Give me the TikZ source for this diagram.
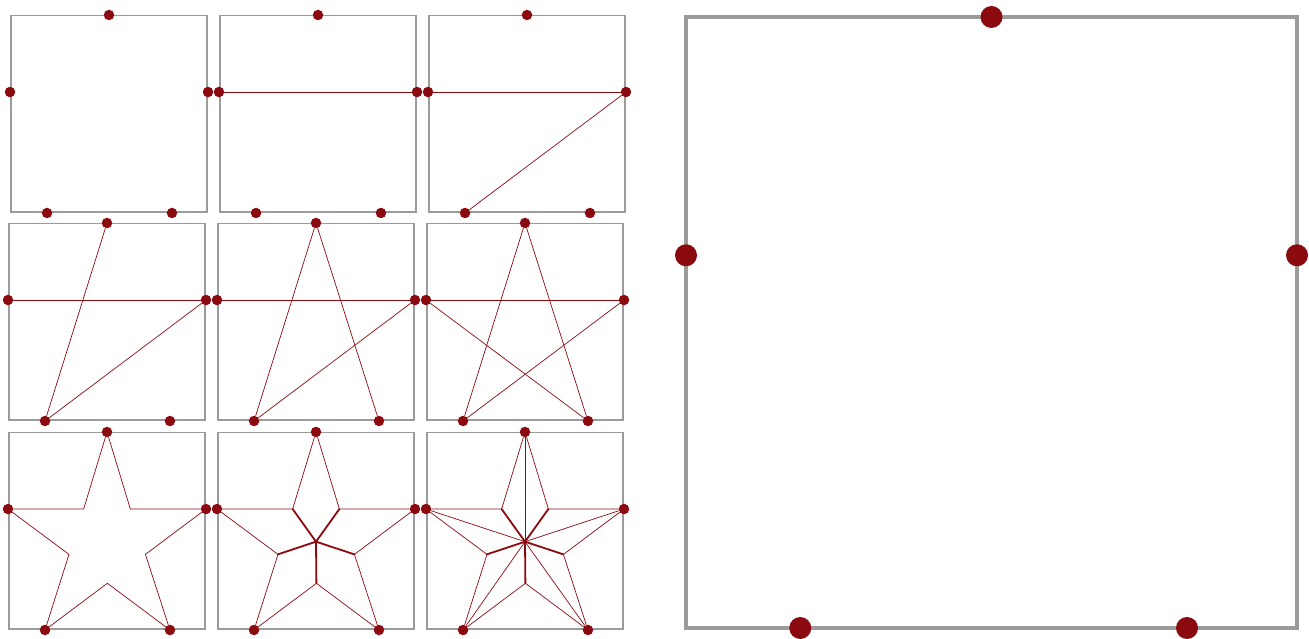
\documentclass[tikz,border=0pt]{standalone}
\usetikzlibrary{calc}
\definecolor{dred}{RGB}{139,10,16}
\definecolor{boxgray}{RGB}{155,155,155}
\tikzset{
  sbox/.style={draw=boxgray,line width=1.6pt},
  bbox/.style={draw=boxgray,line width=4.5pt},
  sdot/.style={circle,fill=dred,inner sep=0pt,minimum size=10.5pt},
  bdot/.style={circle,fill=dred,inner sep=0pt,minimum size=22pt},
  edge/.style={draw=dred,line width=0.7pt},
  spoke/.style={draw=dred,line width=1.8pt},
}
\newcommand\mkpanel[3]{%
  \begin{scope}[shift={(#2,#3)},x=198pt,y=-198pt]
    \draw[sbox] (0.005,0.003) rectangle (0.995,0.995);
    \coordinate (#1C) at (0.5,0.554);
    \coordinate (#1i1) at (0.618,0.389);
    \coordinate (#1i2) at (0.694,0.618);
    \coordinate (#1i3) at (0.502,0.764);
    \coordinate (#1i4) at (0.308,0.618);
    \coordinate (#1i5) at (0.382,0.389);
    \node[sdot] (#1T) at (0.5,0) {};
    \node[sdot] (#1R) at (1,0.389) {};
    \node[sdot] (#1BR) at (0.818,1) {};
    \node[sdot] (#1BL) at (0.187,1) {};
    \node[sdot] (#1L) at (0,0.389) {};
  \end{scope}}
\newcommand\staroutline[1]{%
  \draw[edge] (#1T) -- (#1i1) -- (#1R);
  \draw[edge] (#1R) -- (#1i2) -- (#1BR);
  \draw[edge] (#1BR) -- (#1i3) -- (#1BL);
  \draw[edge] (#1BL) -- (#1i4) -- (#1L);
  \draw[edge] (#1L) -- (#1i5) -- (#1T);}
\newcommand\starspokes[1]{%
  \foreach \k in {1,...,5} {\draw[spoke,line cap=round] (#1C) -- (#1i\k);}}
\begin{document}
\begin{tikzpicture}[x=1pt,y=-1pt]
\useasboundingbox (0,0) rectangle (1309,639);
% row 1
\mkpanel{a}{10}{15}
\mkpanel{b}{219}{15}
\mkpanel{c}{428}{15}
% row 2
\mkpanel{d}{8}{223}
\mkpanel{e}{217}{223}
\mkpanel{f}{426}{223}
% row 3
\mkpanel{g}{8}{432}
\mkpanel{h}{217}{432}
\mkpanel{k}{426}{432}
% panel b
\draw[edge] (bL) -- (bR);
% panel c
\draw[edge] (cL) -- (cR);
\draw[edge] (cR) -- (cBL);
% panel d
\draw[edge] (dL) -- (dR);
\draw[edge] (dR) -- (dBL);
\draw[edge] (dBL) -- (dT);
% panel e
\draw[edge] (eL) -- (eR);
\draw[edge] (eR) -- (eBL);
\draw[edge] (eBL) -- (eT);
\draw[edge] (eT) -- (eBR);
% panel f
\draw[edge] (fL) -- (fR);
\draw[edge] (fR) -- (fBL);
\draw[edge] (fBL) -- (fT);
\draw[edge] (fT) -- (fBR);
\draw[edge] (fBR) -- (fL);
% panel g
\staroutline{g}
% panel h
\staroutline{h}
\starspokes{h}
% panel k
\staroutline{k}
\starspokes{k}
\foreach \v in {T,R,BR,BL,L} {\draw[edge] (kC) -- (k\v);}
% big panel
\begin{scope}[shift={(686,17)},x=611pt,y=-611pt]
  \draw[bbox] (0,0) rectangle (1,1);
  \node[bdot] (zT) at (0.5,0) {};
  \node[bdot] (zR) at (1,0.39) {};
  \node[bdot] (zBR) at (0.82,1) {};
  \node[bdot] (zBL) at (0.187,1) {};
  \node[bdot] (zL) at (0,0.39) {};
\end{scope}
\end{tikzpicture}
\end{document}
